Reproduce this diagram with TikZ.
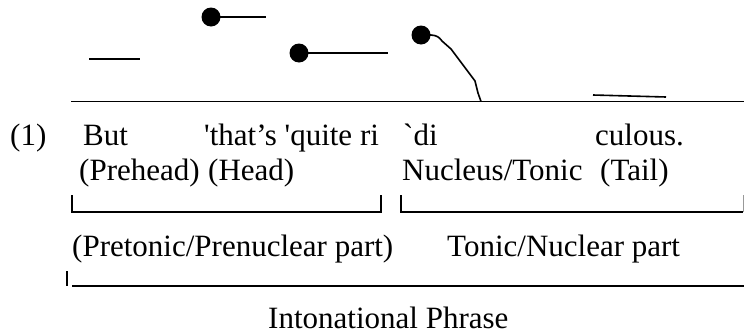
\documentclass[tikz,border=0pt]{standalone}
\usepackage{fontspec}
\setmainfont{Liberation Serif}[Ligatures=TeXOff]
\begin{document}
\begin{tikzpicture}[x=1pt,y=-1pt,
  lbl/.style={anchor=base west, inner sep=0pt, font=\fontsize{31}{36}\selectfont},
  pitchdot/.style={circle, fill=black, inner sep=0pt, minimum size=19pt},
  contour/.style={line width=1.6pt, line join=round},
  rule/.style={line width=1.7pt},
  bracketline/.style={line width=1.3pt}]
\useasboundingbox (0,0) rectangle (744,335);

% pitch contour above the text line
\coordinate (low0) at (89,59);
\coordinate (low1) at (140,59);
\draw[contour] (low0) -- (low1);

\node[pitchdot] (d1) at (211,17) {};
\coordinate (d1e) at (266,17);
\draw[contour] (d1.center) -- (d1e);

\node[pitchdot] (d2) at (299,53) {};
\coordinate (d2e) at (388,53);
\draw[contour] (d2.center) -- (d2e);

\node[pitchdot] (d3) at (421,35) {};
\coordinate (fall) at (481,101.5);
\draw[contour] (d3.center) -- (431,35) .. controls (437,35.5) and (439,37) .. (442,41)
  -- (451,49) -- (475,81) -- (478,93) -- (fall);

\coordinate (tail0) at (593,95);
\coordinate (tail1) at (666,97);
\draw[contour] (tail0) -- (tail1);

% base line
\coordinate (base0) at (71,101.5);
\coordinate (base1) at (744,101.5);
\draw[rule] (base0) -- (base1);

% example sentence
\node[lbl] (num) at (10,145) {(1)};
\node[lbl] (w1) at (83,145) {But};
\node[lbl] (w2) at (204,145) {'that’s 'quite ri};
\node[lbl] (w3) at (403,145) {`di};
\node[lbl] (w4) at (595,145) {culous.};

% component labels
\node[lbl] (prehead) at (79,180) {(Prehead)};
\node[lbl] (head) at (208,180) {(Head)};
\node[lbl] (nucleus) at (402,180) {Nucleus/Tonic};
\node[lbl] (tail) at (600,180) {(Tail)};

% brackets
\draw[bracketline] (72,195) |- (381,212) -- (381,195);
\draw[bracketline] (401,195) |- (743,212);
\draw[line width=0.8pt, black!40] (743,195) -- (743,212);

\node[lbl] (pretonic) at (72,256) {(Pretonic/Prenuclear part)};
\node[lbl] (tonic) at (447,256) {Tonic/Nuclear part};

% whole phrase
\draw[bracketline] (67,271) -- (67,286);
\draw[rule] (72,286) -- (744,286);
\node[lbl] (phrase) at (268,328) {Intonational Phrase};
\end{tikzpicture}
\end{document}
